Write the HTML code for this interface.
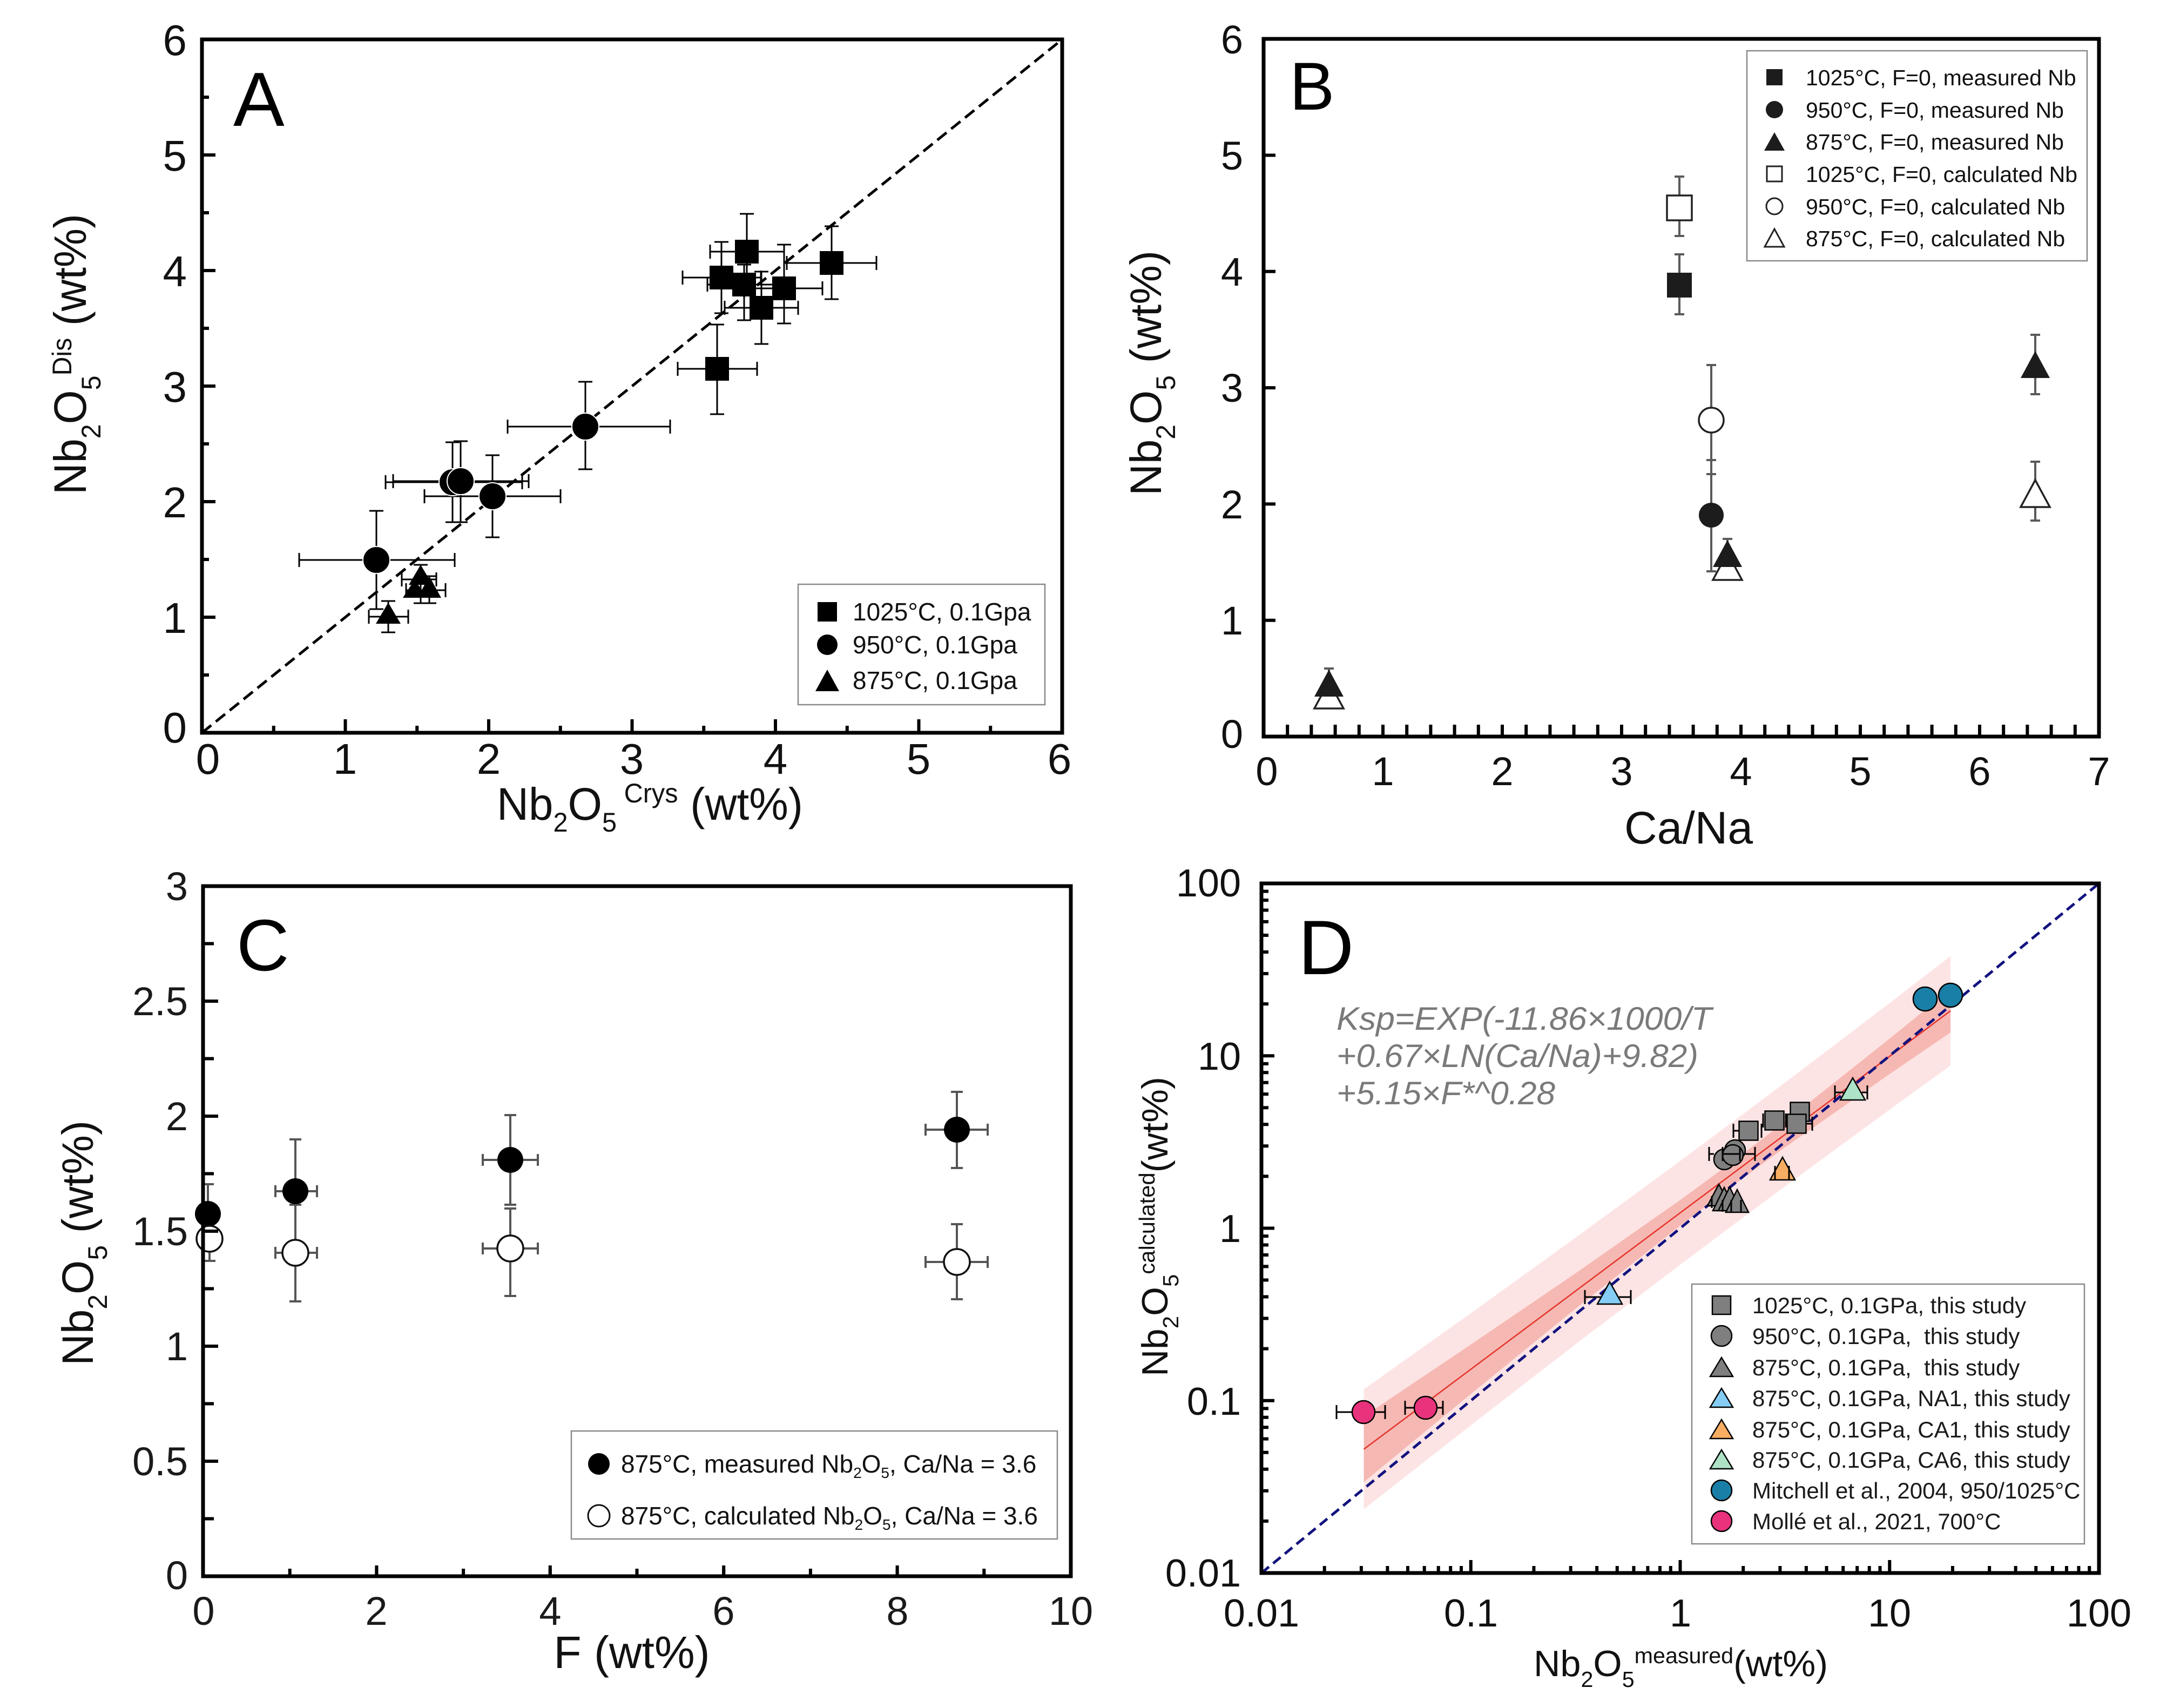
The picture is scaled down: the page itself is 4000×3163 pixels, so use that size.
<!DOCTYPE html>
<html>
<head>
<meta charset="utf-8">
<style>
html,body{margin:0;padding:0;background:#fff;}
svg{display:block;}
</style>
</head>
<body>
<svg xmlns="http://www.w3.org/2000/svg" width="4000" height="3163" viewBox="0 0 4000 3163" font-family="'Liberation Sans', Arial, sans-serif">
<rect width="4000" height="3163" fill="#fff"/>

<!-- ================= PANEL A ================= -->
<g>
  <line x1="374" y1="1357" x2="1967" y2="73" stroke="#000" stroke-width="5" stroke-dasharray="22 11"/>
  <path fill="none" stroke="#000" stroke-width="3" d="
  M1383 396V536 M1370 396h26 M1370 536h26 M1315 466H1452 M1315 453v26 M1452 453v26
  M1336 448V580 M1323 448h26 M1323 580h26 M1264 514H1409 M1264 501v26 M1409 501v26
  M1378 490V593 M1365 490h26 M1365 593h26 M1310 527H1440 M1310 514v26 M1440 514v26
  M1410 503V637 M1397 503h26 M1397 637h26 M1342 570H1478 M1342 557v26 M1478 557v26
  M1452 453V599 M1439 453h26 M1439 599h26 M1387 534H1523 M1387 521v26 M1523 521v26
  M1540 419V554 M1527 419h26 M1527 554h26 M1457 487H1623 M1457 474v26 M1623 474v26
  M1328 601V767 M1315 601h26 M1315 767h26 M1255 683H1402 M1255 670v26 M1402 670v26
  M1084 707V869 M1071 707h26 M1071 869h26 M940 790H1241 M940 777v26 M1241 777v26
  M838 819V967 M825 819h26 M825 967h26 M714 893H967 M714 880v26 M967 880v26
  M853 817V967 M840 817h26 M840 967h26 M728 891H979 M728 878v26 M979 878v26
  M912 843V995 M899 843h26 M899 995h26 M786 919H1038 M786 906v26 M1038 906v26
  M697 946V1128 M684 946h26 M684 1128h26 M554 1037H842 M554 1024v26 M842 1024v26
  M719 1113V1171 M706 1113h26 M706 1171h26 M683 1142H756 M683 1129v26 M756 1129v26
  M779 1046V1117 M766 1046h26 M766 1117h26 M744 1073H808 M744 1060v26 M808 1060v26
  M795 1067V1117 M782 1067h26 M782 1117h26 M752 1093H825 M752 1080v26 M825 1080v26"/>
  <g fill="#000">
    <rect x="1306" y="661" width="44" height="44"/>
    <rect x="1518" y="465" width="44" height="44"/>
    <rect x="1361" y="444" width="44" height="44"/>
    <rect x="1314" y="492" width="44" height="44"/>
    <rect x="1430" y="512" width="44" height="44"/>
    <rect x="1356" y="505" width="44" height="44"/>
    <rect x="1388" y="548" width="44" height="44"/>
  </g>
  <g fill="#000" stroke="#fff" stroke-width="2">
    <circle cx="1084" cy="790" r="25"/>
    <circle cx="912" cy="919" r="25"/>
    <circle cx="838" cy="893" r="25"/>
    <circle cx="853" cy="891" r="25"/>
    <circle cx="697" cy="1037" r="25"/>
  </g>
  <g fill="#000">
    <polygon points="719,1116 696,1155 742,1155"/>
    <polygon points="768,1073 746,1107 790,1107"/>
    <polygon points="779,1046 757,1083 801,1083"/>
    <polygon points="795,1067 773,1107 817,1107"/>
  </g>
  <rect x="374" y="73" width="1593" height="1284" fill="none" stroke="#000" stroke-width="7"/>
  <line x1="503.75" y1="1350.5" x2="1837.25" y2="1350.5" stroke="#000" stroke-width="13" stroke-dasharray="6 126.75"/>
  <line x1="636.5" y1="1344.5" x2="1704.5" y2="1344.5" stroke="#000" stroke-width="25" stroke-dasharray="6 259.5"/>
  <line x1="380.5" y1="177" x2="380.5" y2="1253" stroke="#000" stroke-width="13" stroke-dasharray="6 101"/>
  <line x1="386.5" y1="284" x2="386.5" y2="1146" stroke="#000" stroke-width="25" stroke-dasharray="6 208"/>
  <g font-size="80" fill="#111" text-anchor="middle">
    <text x="385" y="1433">0</text>
    <text x="639" y="1433">1</text>
    <text x="905" y="1433">2</text>
    <text x="1170" y="1433">3</text>
    <text x="1436" y="1433">4</text>
    <text x="1701" y="1433">5</text>
    <text x="1962" y="1433">6</text>
  </g>
  <g font-size="80" fill="#111" text-anchor="end">
    <text x="346" y="1375">0</text>
    <text x="346" y="1172">1</text>
    <text x="346" y="958">2</text>
    <text x="346" y="744">3</text>
    <text x="346" y="530">4</text>
    <text x="346" y="316">5</text>
    <text x="346" y="102">6</text>
  </g>
  <text x="432" y="233" font-size="142" fill="#000">A</text>
  <text x="920" y="1518" font-size="84" fill="#111" textLength="567" lengthAdjust="spacingAndGlyphs">Nb<tspan font-size="50" dy="22">2</tspan><tspan dy="-22">O</tspan><tspan font-size="50" dy="22">5</tspan><tspan font-size="50" dy="-54"> Crys</tspan><tspan dy="32"> (wt%)</tspan></text>
  <text transform="translate(159,916) rotate(-90)" font-size="84" fill="#111" textLength="520" lengthAdjust="spacingAndGlyphs">Nb<tspan font-size="50" dy="27">2</tspan><tspan dy="-27">O</tspan><tspan font-size="50" dy="27">5</tspan><tspan font-size="50" dy="-54">Dis</tspan><tspan dy="27"> (wt%)</tspan></text>
  <rect x="1478" y="1082" width="457" height="223" fill="#fff" stroke="#8a8a8a" stroke-width="2.5"/>
  <rect x="1514" y="1115" width="36" height="36" fill="#000"/>
  <circle cx="1532" cy="1194" r="19" fill="#000"/>
  <polygon points="1532,1240 1510,1280 1554,1280" fill="#000"/>
  <g font-size="46" fill="#111">
    <text x="1579" y="1149">1025°C, 0.1Gpa</text>
    <text x="1579" y="1210">950°C, 0.1Gpa</text>
    <text x="1579" y="1276">875°C, 0.1Gpa</text>
  </g>
</g>

<!-- ================= PANEL B ================= -->
<g>
  <path fill="none" stroke="#5a5a5a" stroke-width="4" d="
  M3110 471V582 M3101 471h18 M3101 582h18
  M3110 327V437 M3101 327h18 M3101 437h18
  M3169 676V1058 M3160 676h18 M3160 878h18 M3160 852h18 M3160 1058h18
  M3199 998V1030 M3190 998h18
  M3769 620V730 M3760 620h18 M3760 730h18
  M3769 855V964 M3760 855h18 M3760 964h18
  M2461 1238V1262 M2452 1238h18"/>
  <rect x="3087" y="362" width="46" height="46" fill="#fff" stroke="#222" stroke-width="3.5"/>
  <rect x="3087" y="505" width="46" height="46" fill="#1c1c1c"/>
  <circle cx="3169" cy="778" r="23" fill="#fff" stroke="#222" stroke-width="3.5"/>
  <circle cx="3169" cy="954" r="23" fill="#1c1c1c"/>
  <polygon points="3199,1024 3172,1074 3226,1074" fill="#fff" stroke="#222" stroke-width="3.5"/>
  <polygon points="3199,1000 3172,1050 3226,1050" fill="#1c1c1c"/>
  <polygon points="3769,889 3742,939 3796,939" fill="#fff" stroke="#222" stroke-width="3.5"/>
  <polygon points="3769,650 3742,700 3796,700" fill="#1c1c1c"/>
  <polygon points="2461,1262 2434,1312 2488,1312" fill="#fff" stroke="#222" stroke-width="3.5"/>
  <polygon points="2461,1240 2434,1290 2488,1290" fill="#1c1c1c"/>
  <rect x="2340" y="72" width="1547" height="1292" fill="none" stroke="#000" stroke-width="7"/>
  <line x1="2381.2" y1="1353" x2="3845.8" y2="1353" stroke="#000" stroke-width="22" stroke-dasharray="6 38.2"/>
  <line x1="2351" y1="284.5" x2="2351" y2="1151.7" stroke="#000" stroke-width="22" stroke-dasharray="6 209.3"/>
  <g font-size="74" fill="#111" text-anchor="middle">
    <text x="2346" y="1454">0</text>
    <text x="2561" y="1454">1</text>
    <text x="2782" y="1454">2</text>
    <text x="3003" y="1454">3</text>
    <text x="3224" y="1454">4</text>
    <text x="3445" y="1454">5</text>
    <text x="3666" y="1454">6</text>
    <text x="3887" y="1454">7</text>
  </g>
  <g font-size="74" fill="#111" text-anchor="end">
    <text x="2302" y="1385">0</text>
    <text x="2302" y="1175">1</text>
    <text x="2302" y="960">2</text>
    <text x="2302" y="744">3</text>
    <text x="2302" y="529">4</text>
    <text x="2302" y="314">5</text>
    <text x="2302" y="99">6</text>
  </g>
  <text x="2388" y="203" font-size="125" fill="#000">B</text>
  <text x="3127" y="1562" font-size="84" fill="#111" text-anchor="middle">Ca/Na</text>
  <text transform="translate(2150,918) rotate(-90)" font-size="82" fill="#111" textLength="454" lengthAdjust="spacingAndGlyphs">Nb<tspan font-size="50" dy="26">2</tspan><tspan dy="-26">O</tspan><tspan font-size="50" dy="26">5</tspan><tspan dy="-26"> (wt%)</tspan></text>
  <rect x="3235" y="94" width="630" height="389" fill="#fff" stroke="#8a8a8a" stroke-width="2.5"/>
  <rect x="3271" y="128" width="30" height="30" fill="#1c1c1c"/>
  <circle cx="3286" cy="203" r="16" fill="#1c1c1c"/>
  <polygon points="3286,245 3267,279 3305,279" fill="#1c1c1c"/>
  <rect x="3272" y="308" width="28" height="28" fill="#fff" stroke="#222" stroke-width="3"/>
  <circle cx="3286" cy="382" r="15" fill="#fff" stroke="#222" stroke-width="3"/>
  <polygon points="3286,424 3268,457 3304,457" fill="#fff" stroke="#222" stroke-width="3"/>
  <g font-size="41" fill="#111">
    <text x="3344" y="158">1025°C, F=0, measured Nb</text>
    <text x="3344" y="218">950°C, F=0, measured Nb</text>
    <text x="3344" y="277">875°C, F=0, measured Nb</text>
    <text x="3344" y="337">1025°C, F=0, calculated Nb</text>
    <text x="3344" y="397">950°C, F=0, calculated Nb</text>
    <text x="3344" y="456">875°C, F=0, calculated Nb</text>
  </g>
</g>

<!-- ================= PANEL C ================= -->
<g>
  <path fill="none" stroke="#555" stroke-width="4" d="
  M385 2193V2300 M374 2193h22
  M388 2252V2335 M377 2335h22
  M547 2110V2302 M536 2110h22 M536 2302h22 M510 2206H587 M510 2195v22 M587 2195v22
  M547 2231V2410 M536 2231h22 M536 2410h22 M510 2320H587 M510 2309v22 M587 2309v22
  M945 2065V2231 M934 2065h22 M934 2231h22 M894 2148H996 M894 2137v22 M996 2137v22
  M945 2238V2400 M934 2238h22 M934 2400h22 M894 2312H996 M894 2301v22 M996 2301v22
  M1772 2022V2163 M1761 2022h22 M1761 2163h22 M1714 2092H1829 M1714 2081v22 M1829 2081v22
  M1772 2267V2406 M1761 2267h22 M1761 2406h22 M1714 2337H1829 M1714 2326v22 M1829 2326v22"/>
  <g fill="#000">
    <circle cx="385" cy="2248" r="24"/>
    <circle cx="547" cy="2206" r="24"/>
    <circle cx="945" cy="2148" r="24"/>
    <circle cx="1772" cy="2092" r="24"/>
  </g>
  <g fill="#fff" stroke="#111" stroke-width="3.5">
    <circle cx="388" cy="2294" r="24"/>
    <circle cx="547" cy="2320" r="24"/>
    <circle cx="945" cy="2312" r="24"/>
    <circle cx="1772" cy="2337" r="24"/>
  </g>
  <rect x="376" y="1641" width="1607" height="1278" fill="none" stroke="#000" stroke-width="7"/>
  <line x1="533.7" y1="2912" x2="1825.3" y2="2912" stroke="#000" stroke-width="14" stroke-dasharray="6 154.7"/>
  <line x1="694.4" y1="2909" x2="1664.6" y2="2909" stroke="#000" stroke-width="20" stroke-dasharray="6 315.4"/>
  <line x1="386" y1="1744.5" x2="386" y2="2815.5" stroke="#000" stroke-width="20" stroke-dasharray="6 100.5"/>
  <line x1="390" y1="1851" x2="390" y2="2709" stroke="#000" stroke-width="28" stroke-dasharray="6 207"/>
  <g font-size="74" fill="#1a1a1a" text-anchor="middle">
    <text x="377" y="3009">0</text>
    <text x="697" y="3009">2</text>
    <text x="1019" y="3009">4</text>
    <text x="1340" y="3009">6</text>
    <text x="1662" y="3009">8</text>
    <text x="1983" y="3009">10</text>
  </g>
  <g font-size="74" fill="#1a1a1a" text-anchor="end">
    <text x="348" y="2943">0</text>
    <text x="348" y="2732">0.5</text>
    <text x="348" y="2519">1</text>
    <text x="348" y="2306">1.5</text>
    <text x="348" y="2093">2</text>
    <text x="348" y="1880">2.5</text>
    <text x="348" y="1667">3</text>
  </g>
  <text x="438" y="1797" font-size="135" fill="#000">C</text>
  <text x="1170" y="3089" font-size="84" fill="#111" text-anchor="middle">F (wt%)</text>
  <text transform="translate(172,2529) rotate(-90)" font-size="82" fill="#111" textLength="454" lengthAdjust="spacingAndGlyphs">Nb<tspan font-size="50" dy="26">2</tspan><tspan dy="-26">O</tspan><tspan font-size="50" dy="26">5</tspan><tspan dy="-26"> (wt%)</tspan></text>
  <rect x="1058" y="2650" width="900" height="200" fill="#fff" stroke="#8a8a8a" stroke-width="2.5"/>
  <circle cx="1109" cy="2711" r="20" fill="#000"/>
  <circle cx="1109" cy="2807" r="20" fill="#fff" stroke="#111" stroke-width="3"/>
  <g font-size="46" fill="#111">
    <text x="1150" y="2727">875°C, measured Nb<tspan font-size="28" dy="10">2</tspan><tspan dy="-10">O</tspan><tspan font-size="28" dy="10">5</tspan><tspan dy="-10">, Ca/Na = 3.6</tspan></text>
    <text x="1150" y="2823">875°C, calculated Nb<tspan font-size="28" dy="10">2</tspan><tspan dy="-10">O</tspan><tspan font-size="28" dy="10">5</tspan><tspan dy="-10">, Ca/Na = 3.6</tspan></text>
  </g>
</g>

<!-- ================= PANEL D ================= -->
<g>
  <polygon fill="#fde4e4" points="2525.6,2572.7 2723.8,2431.9 2917.6,2292.1 3111.5,2149.9 3208.4,2077.8 3305.4,2005.0 3499.3,1857.5 3612.1,1770.5 3612.1,1973.3 3499.3,2054.9 3305.4,2197.2 3208.4,2269.2 3111.5,2342.1 2917.6,2489.5 2723.8,2639.5 2525.6,2794.9"/>
  <polygon fill="#f6b8b3" points="2525.6,2623.1 2723.8,2489.9 2917.6,2358.0 3111.5,2222.2 3208.4,2151.2 3305.4,2077.3 3499.3,1923.4 3612.1,1831.8 3612.1,1912.0 3499.3,1989.0 3305.4,2124.9 3208.4,2195.8 3111.5,2269.8 2917.6,2423.6 2723.8,2581.5 2525.6,2744.5"/>
  <line x1="2525.6" y1="2683.8" x2="3612.1" y2="1871.9" stroke="#e5352c" stroke-width="2.5"/>
  <line x1="2336" y1="2913" x2="3887" y2="1636" stroke="#12127e" stroke-width="5" stroke-dasharray="18 10"/>
  <g font-size="60" font-style="italic" fill="#7a7a7a">
    <text x="2475" y="1907" textLength="695" lengthAdjust="spacingAndGlyphs">Ksp=EXP(-11.86×1000/T</text>
    <text x="2475" y="1976" textLength="670" lengthAdjust="spacingAndGlyphs">+0.67×LN(Ca/Na)+9.82)</text>
    <text x="2475" y="2045" textLength="405" lengthAdjust="spacingAndGlyphs">+5.15×F*^0.28</text>
  </g>
  <g stroke="#000" stroke-width="2.5">
    <circle cx="2525" cy="2615" r="21" fill="#e8337c"/>
    <circle cx="2640" cy="2607" r="21" fill="#e8337c"/>
    <circle cx="3565" cy="1850" r="22" fill="#1a7fa6"/>
    <circle cx="3612" cy="1843" r="22" fill="#1a7fa6"/>
    <polygon points="2981,2374 2958,2415 3004,2415" fill="#86cdf5"/>
    <polygon points="3301,2143 3278,2185 3324,2185" fill="#f8ae62"/>
    <polygon points="3431,1996 3408,2037 3454,2037" fill="#aee2c7"/>
    <rect x="3220.5" y="2076.5" width="35" height="35" fill="#7f7f7f"/>
    <rect x="3268.5" y="2057.5" width="35" height="35" fill="#7f7f7f"/>
    <rect x="3315.5" y="2041.5" width="35" height="35" fill="#7f7f7f"/>
    <rect x="3309.5" y="2063.5" width="35" height="35" fill="#7f7f7f"/>
    <circle cx="3213" cy="2130" r="19" fill="#7f7f7f"/>
    <circle cx="3193" cy="2147" r="19" fill="#7f7f7f"/>
    <circle cx="3209" cy="2139" r="19" fill="#7f7f7f"/>
    <polygon points="3183,2193 3162,2233 3204,2233" fill="#7f7f7f"/>
    <polygon points="3193,2199 3172,2242 3214,2242" fill="#7f7f7f"/>
    <polygon points="3203,2198 3182,2242 3224,2242" fill="#7f7f7f"/>
    <polygon points="3217,2203 3196,2245 3238,2245" fill="#7f7f7f"/>
  </g>
  <path fill="none" stroke="#000" stroke-width="3" d="
  M2475 2615H2504 M2546 2615H2565 M2475 2602v26 M2565 2602v26
  M2602 2607H2619 M2661 2607H2672 M2602 2594v26 M2672 2594v26
  M2935 2402H2964 M2998 2402H3020 M2935 2389v26 M3020 2389v26
  M3398 2023H3414 M3448 2023H3458 M3398 2010v26 M3458 2010v26
  M3287 2159v26 M3313 2159v26
  M3210 2094H3220 M3210 2081v26 M3262 2081v26
  M3265 2062v26 M3307 2062v26
  M3344 2081H3356 M3356 2068v26
  M3165 2137H3174 M3165 2124v26 M3232 2137H3250 M3250 2124v26 M3190 2137H3222 M3190 2124v26 M3222 2124v26
  M3170 2215v22 M3190 2222v22 M3206 2222v22 M3224 2222v22"/>
  <rect x="2336" y="1636" width="1551" height="1277" fill="none" stroke="#000" stroke-width="7"/>
  <path fill="none" stroke="#000" stroke-width="6" d="
  M2336 2816.9h13 M2336 2760.7h13 M2336 2720.8h13 M2336 2689.8h13 M2336 2664.6h13 M2336 2643.2h13 M2336 2624.7h13 M2336 2608.4h13
  M2336 2593.75h24
  M2336 2497.65h13 M2336 2441.45h13 M2336 2401.55h13 M2336 2370.55h13 M2336 2345.35h13 M2336 2323.95h13 M2336 2305.45h13 M2336 2289.15h13
  M2336 2274.5h24
  M2336 2178.4h13 M2336 2122.2h13 M2336 2082.3h13 M2336 2051.3h13 M2336 2026.1h13 M2336 2004.7h13 M2336 1986.2h13 M2336 1969.9h13
  M2336 1955.25h24
  M2336 1859.15h13 M2336 1802.95h13 M2336 1763.05h13 M2336 1732.05h13 M2336 1706.85h13 M2336 1685.45h13 M2336 1666.95h13 M2336 1650.65h13
  M2452.7 2913v-13 M2520.9 2913v-13 M2569.4 2913v-13 M2607 2913v-13 M2637.7 2913v-13 M2663.7 2913v-13 M2686.2 2913v-13 M2706 2913v-13
  M2723.75 2913v-24
  M2840.45 2913v-13 M2908.65 2913v-13 M2957.15 2913v-13 M2994.75 2913v-13 M3025.45 2913v-13 M3051.45 2913v-13 M3073.95 2913v-13 M3093.75 2913v-13
  M3111.5 2913v-24
  M3228.2 2913v-13 M3296.4 2913v-13 M3344.9 2913v-13 M3382.5 2913v-13 M3413.2 2913v-13 M3439.2 2913v-13 M3461.7 2913v-13 M3481.5 2913v-13
  M3499.25 2913v-24
  M3615.95 2913v-13 M3684.15 2913v-13 M3732.65 2913v-13 M3770.25 2913v-13 M3800.95 2913v-13 M3826.95 2913v-13 M3849.45 2913v-13 M3869.25 2913v-13"/>
  <g font-size="72" fill="#111" text-anchor="middle">
    <text x="2336" y="3012">0.01</text>
    <text x="2724" y="3012">0.1</text>
    <text x="3112" y="3012">1</text>
    <text x="3499" y="3012">10</text>
    <text x="3887" y="3012">100</text>
  </g>
  <g font-size="72" fill="#111" text-anchor="end">
    <text x="2298" y="2938">0.01</text>
    <text x="2298" y="2620">0.1</text>
    <text x="2298" y="2300">1</text>
    <text x="2298" y="1981">10</text>
    <text x="2298" y="1660">100</text>
  </g>
  <text x="2404" y="1804" font-size="143" fill="#000">D</text>
  <text x="2840" y="3104" font-size="68" fill="#111" textLength="545" lengthAdjust="spacingAndGlyphs">Nb<tspan font-size="41" dy="20">2</tspan><tspan dy="-20">O</tspan><tspan font-size="41" dy="20">5</tspan><tspan font-size="41" dy="-44">measured</tspan><tspan dy="24">(wt%)</tspan></text>
  <text transform="translate(2162,2549) rotate(-90)" font-size="68" fill="#111" textLength="555" lengthAdjust="spacingAndGlyphs">Nb<tspan font-size="41" dy="20">2</tspan><tspan dy="-20">O</tspan><tspan font-size="41" dy="20">5</tspan><tspan font-size="41" dy="-44">calculated</tspan><tspan dy="24">(wt%)</tspan></text>
  <rect x="3133" y="2378" width="727" height="481" fill="#fff" stroke="#8a8a8a" stroke-width="2.5"/>
  <g stroke="#000" stroke-width="2.5">
    <rect x="3171" y="2400" width="34" height="34" fill="#7f7f7f"/>
    <circle cx="3188" cy="2474" r="19" fill="#7f7f7f"/>
    <polygon points="3188,2514 3167,2549 3209,2549" fill="#7f7f7f"/>
    <polygon points="3188,2571 3167,2606 3209,2606" fill="#86cdf5"/>
    <polygon points="3188,2629 3167,2664 3209,2664" fill="#f8ae62"/>
    <polygon points="3188,2685 3167,2720 3209,2720" fill="#aee2c7"/>
    <circle cx="3188" cy="2760" r="19" fill="#1a7fa6"/>
    <circle cx="3188" cy="2817" r="19" fill="#e8337c"/>
  </g>
  <g font-size="42" fill="#1a1a1a">
    <text x="3245" y="2432">1025°C, 0.1GPa, this study</text>
    <text x="3245" y="2489">950°C, 0.1GPa, &#160;this study</text>
    <text x="3245" y="2547">875°C, 0.1GPa, &#160;this study</text>
    <text x="3245" y="2604">875°C, 0.1GPa, NA1, this study</text>
    <text x="3245" y="2662">875°C, 0.1GPa, CA1, this study</text>
    <text x="3245" y="2718">875°C, 0.1GPa, CA6, this study</text>
    <text x="3245" y="2775">Mitchell et al., 2004, 950/1025°C</text>
    <text x="3245" y="2832">Mollé et al., 2021, 700°C</text>
  </g>
</g>
</svg>
</body>
</html>
